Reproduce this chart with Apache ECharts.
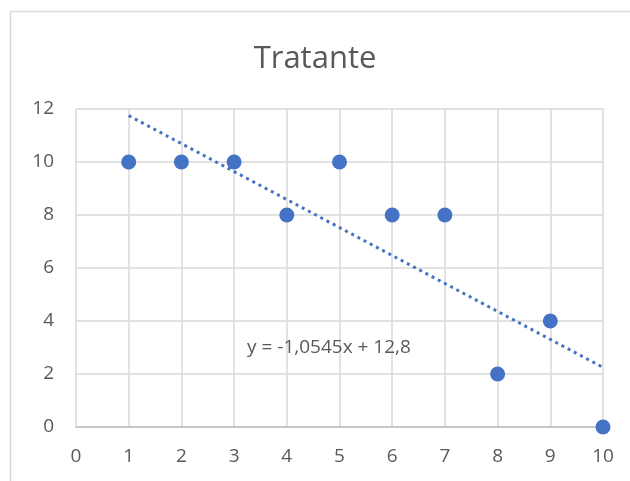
<!DOCTYPE html>
<html>
<head>
<meta charset="utf-8">
<script src="https://cdn.jsdelivr.net/npm/echarts@6/dist/echarts.min.js"></script>
<style>
  html, body { margin: 0; padding: 0; background: #fff; }
  #main { width: 630px; height: 481px; }
</style>
</head>
<body>
<div id="main"></div>
<script>
var xValues = [1, 2, 3, 4, 5, 6, 7, 8, 9, 10];
var yValues = [10, 10, 10, 8, 10, 8, 8, 2, 4, 0];
// trendline end points (y = -1,0545x + 12,8)
var trendX = [1, 10];
var trendY = [11.75, 2.25];
var equationText = 'y = -1,0545x + 12,8';
var equationPos = [4.8, 3.0];

(function () {
    var myChart = echarts.init(document.querySelector('#main'));
    var points = xValues.map(function (x, i) { return [x, yValues[i]]; });
    var trend = trendX.map(function (x, i) { return [x, trendY[i]]; });
    var labelColor = '#595959';
    var fontFamily = '"Open Sans", sans-serif';

    myChart.setOption({
        animation: false,
        title: {
            text: 'Tratante',
            left: 'center',
            top: 39,
            textStyle: {
                fontFamily: fontFamily,
                fontSize: 31,
                fontWeight: 'normal',
                color: labelColor
            }
        },
        graphic: [{
            type: 'rect',
            shape: { x: 10.5, y: 11.5, width: 700, height: 600 },
            style: { fill: 'none', stroke: '#d9d9d9', lineWidth: 1.5 },
            silent: true
        }],
        grid: {
            left: 76,
            right: 27,
            top: 109,
            bottom: 54
        },
        xAxis: {
            type: 'value',
            min: 0,
            max: 10,
            interval: 1,
            axisLine: { show: true, onZero: false, lineStyle: { color: '#bfbfbf', width: 1.5 } },
            axisTick: { show: false },
            axisLabel: { margin: 20, fontFamily: fontFamily, fontSize: 19, color: labelColor },
            splitLine: { show: true, lineStyle: { color: '#d9d9d9', width: 1.5 } }
        },
        yAxis: {
            type: 'value',
            min: 0,
            max: 12,
            interval: 2,
            axisLine: { show: false },
            axisTick: { show: false },
            axisLabel: { margin: 22, fontFamily: fontFamily, fontSize: 19, color: labelColor },
            splitLine: { show: true, lineStyle: { color: '#d9d9d9', width: 1.5 } }
        },
        series: [{
            type: 'line',
            data: trend,
            symbol: 'none',
            lineStyle: { color: '#4472C4', width: 3, type: [3, 4] },
            z: 2,
            markPoint: {
                symbol: 'circle',
                symbolSize: 0,
                data: [{ coord: equationPos, value: equationText }],
                label: {
                    show: true,
                    position: 'inside',
                    formatter: equationText,
                    fontFamily: fontFamily,
                    fontSize: 19,
                    color: labelColor
                }
            }
        }, {
            type: 'scatter',
            data: points,
            symbolSize: 15,
            itemStyle: { color: '#4472C4', opacity: 1 },
            z: 3
        }]
    });
})();
</script>
</body>
</html>
